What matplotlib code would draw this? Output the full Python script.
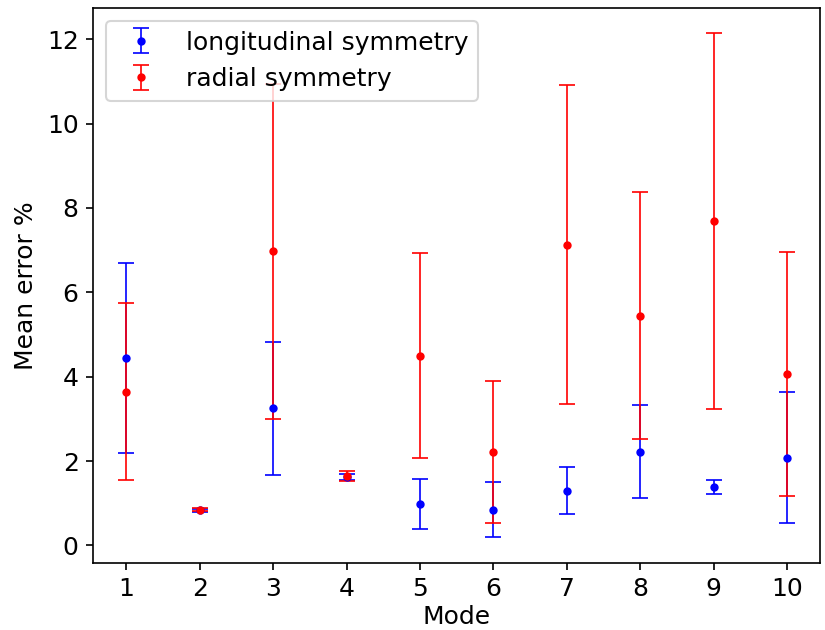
import numpy as np
import matplotlib
matplotlib.use("Agg")
import matplotlib.pyplot as plt

plt.rcParams['font.size'] = 12

# modes on the x axis
modes = [1, 2, 3, 4, 5, 6, 7, 8, 9, 10]

# longitudinal symmetry: mean error and spread
long_mean = [4.45, 0.83, 3.25, 1.62, 0.98, 0.85, 1.30, 2.22, 1.38, 2.08]
long_err = [2.25, 0.03, 1.58, 0.08, 0.59, 0.66, 0.55, 1.10, 0.16, 1.56]

# radial symmetry: mean error and spread
rad_mean = [3.64, 0.85, 6.97, 1.64, 4.50, 2.22, 7.13, 5.45, 7.69, 4.06]
rad_err = [2.10, 0.03, 3.97, 0.12, 2.43, 1.68, 3.78, 2.92, 4.45, 2.90]

fig, ax = plt.subplots(figsize=(5.5, 4.2), dpi=150)
fig.subplots_adjust(left=0.113, right=0.994, top=0.987, bottom=0.107)

ax.errorbar(modes, long_mean, yerr=long_err, fmt='.', color='blue',
            capsize=4, elinewidth=0.8, capthick=0.8,
            label='longitudinal symmetry')
ax.errorbar(modes, rad_mean, yerr=rad_err, fmt='.', color='red',
            capsize=4, elinewidth=0.8, capthick=0.8,
            label='radial symmetry')

ax.set_xticks(modes)
ax.set_xlabel('Mode', labelpad=2)
ax.set_ylabel('Mean error %')
ax.legend(loc='upper left')

plt.savefig('out.png', dpi=150)
